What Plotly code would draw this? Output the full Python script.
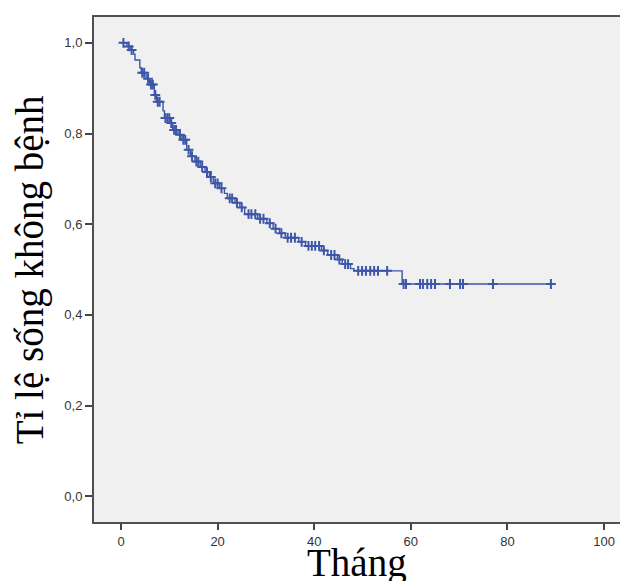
import plotly.graph_objects as go
import numpy as np

# Kaplan-Meier step function: event times and survival after each drop
step_times = [0, 1.2, 2.0, 2.6, 2.9, 3.9, 4.2, 5.2, 5.9, 6.9, 7.4, 8.7, 9.0, 10.2, 10.7,
              11.8, 12.6, 13.6, 14.4, 15.3, 16.4, 17.4, 18.3, 19.1, 20.4, 21.4, 22.0,
              23.6, 24.6, 25.6, 28.3, 30.2, 31.5, 32.8, 34.0, 36.8, 38.2, 41.5, 42.8,
              44.8, 45.8, 47.5, 48.2, 58.2]
step_surv = [1.0, 0.992, 0.984, 0.975, 0.962, 0.945, 0.934, 0.921, 0.908, 0.885, 0.870,
             0.850, 0.834, 0.823, 0.808, 0.797, 0.786, 0.764, 0.750, 0.738, 0.726, 0.715,
             0.704, 0.690, 0.679, 0.668, 0.657, 0.647, 0.637, 0.622, 0.612, 0.602, 0.590,
             0.580, 0.570, 0.561, 0.552, 0.542, 0.532, 0.522, 0.512, 0.502, 0.497, 0.468]
end_time = 89.0

# Censored observations (months)
censor_times = [0.5, 1.6, 2.2, 4.4, 4.8, 5.6, 6.2, 6.6, 7.1, 7.6, 8.0, 9.2, 9.6, 10.0,
                10.4, 11.0, 11.4, 12.2, 12.9, 13.3, 14.0, 14.7, 15.6, 16.0, 16.8, 17.8,
                18.6, 19.5, 20.0, 20.8, 22.5, 23.0, 24.0, 25.0, 26.4, 27.0, 27.8, 28.8,
                29.5, 30.8, 32.0, 33.2, 34.5, 35.2, 36.0, 37.4, 38.8, 39.5, 40.2, 41.0,
                42.0, 43.5, 44.2, 45.2, 46.4, 47.0, 49.1, 49.9, 50.7, 51.6, 52.4, 53.2,
                55.1, 58.5, 59.0, 61.9, 62.5, 63.4, 64.2, 65.0, 68.1, 70.2, 70.8, 77.0, 89.0]

y_ticks = [0.0, 0.2, 0.4, 0.6, 0.8, 1.0]
y_ticklabels = ["0,0", "0,2", "0,4", "0,6", "0,8", "1,0"]
x_ticks = [0, 20, 40, 60, 80, 100]

st = np.array(step_times)
ss = np.array(step_surv)
censor_surv = [float(ss[np.searchsorted(st, t, side="right") - 1]) for t in censor_times]

line_x = list(step_times) + [end_time]
line_y = list(step_surv) + [step_surv[-1]]

color = "#3d56a8"

fig = go.Figure()
fig.add_trace(go.Scatter(x=line_x, y=line_y, mode="lines", line=dict(shape="hv", color=color, width=1.4),
                         hoverinfo="skip", showlegend=False))
fig.add_trace(go.Scatter(x=censor_times, y=censor_surv, mode="markers",
                         marker=dict(symbol="cross-thin", size=7, line=dict(color=color, width=2)),
                         showlegend=False))

tickfont = dict(family="Liberation Sans, Arial", size=13, color="#333")
fig.update_layout(
    width=620, height=581,
    margin=dict(l=94, r=0, t=17, b=59),
    paper_bgcolor="white",
    plot_bgcolor="#f0f0f0",
    xaxis=dict(range=[-5.59, 103.3], tickvals=x_ticks, ticks="outside", ticklen=6, tickwidth=1.5,
               tickcolor="#444", showgrid=False, zeroline=False, showline=True, linecolor="#505050",
               linewidth=2, mirror=True, automargin=False, tickfont=tickfont),
    yaxis=dict(range=[-0.057, 1.057], tickvals=y_ticks, ticktext=y_ticklabels, ticks="outside",
               ticklen=7, tickwidth=1.5, tickcolor="#444", showgrid=False, zeroline=False,
               showline=True, linecolor="#505050", linewidth=2, mirror=False, automargin=False,
               tickfont=tickfont),
    annotations=[
        dict(text="Tháng", xref="paper", yref="paper", x=0.5, y=-0.081, xanchor="center", yanchor="middle",
             showarrow=False, font=dict(family="Liberation Serif, Times New Roman", size=39, color="black")),
        dict(text="Tỉ lệ sống không bệnh", xref="paper", yref="paper", x=-0.122, y=0.5, xanchor="center",
             yanchor="middle", textangle=-90, showarrow=False,
             font=dict(family="Liberation Serif, Times New Roman", size=39, color="black")),
    ],
)

fig.write_html("out.html", config={"displayModeBar": False},
               post_script="document.body.style.margin='0';document.body.style.overflow='hidden';")
